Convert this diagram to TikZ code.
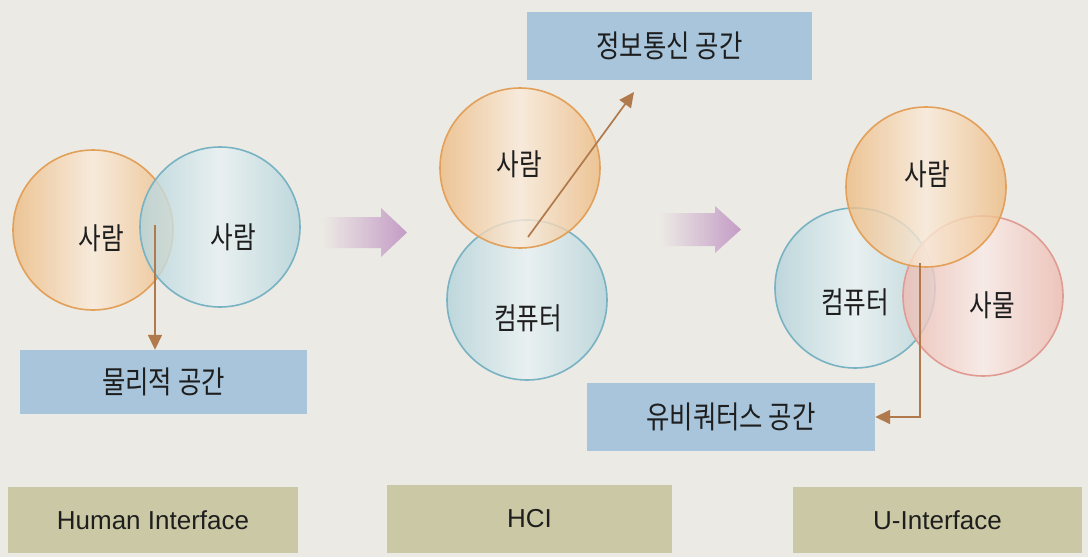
\documentclass[tikz,border=0pt]{standalone}
\usepackage{fontspec}
\setmainfont{Liberation Sans}
\newfontfamily\kr[FakeStretch=0.82]{Noto Sans CJK KR}
\newfontfamily\lat{Liberation Sans}
\usetikzlibrary{arrows.meta,shapes.geometric}
\definecolor{bgc}{HTML}{ECEAE4}
\definecolor{boxblue}{HTML}{A8C5DB}
\definecolor{khaki}{HTML}{CBC9A5}
\definecolor{orS}{HTML}{E2A05A}
\definecolor{orF}{HTML}{EDBB82}
\definecolor{blS}{HTML}{78B2C3}
\definecolor{blF}{HTML}{B3D3DA}
\definecolor{rdS}{HTML}{E09C94}
\definecolor{rdF}{HTML}{EDBBB1}
\definecolor{purp}{HTML}{C49CC6}
\definecolor{brn}{HTML}{B07A4C}
\definecolor{txt}{HTML}{1E1E1E}
\tikzset{
  circ/.style={circle, minimum size=160pt, inner sep=0pt, line width=1.6pt, fill opacity=0.8},
  orc/.style={circ, draw=orS, left color=orF, right color=orF, middle color=orF!30!white},
  blc/.style={circ, draw=blS, left color=blF, right color=blF, middle color=blF!30!white},
  rdc/.style={circ, draw=rdS, left color=rdF, right color=rdF, middle color=rdF!30!white},
  lbl/.style={font=\kr\fontsize{30}{32}\selectfont, text=txt, inner sep=0pt},
  space/.style={fill=boxblue, draw=none, inner sep=0pt, font=\kr\fontsize{31}{33}\selectfont, text=txt},
  kind/.style={fill=khaki, draw=none, inner sep=0pt, font=\lat\fontsize{26}{28}\selectfont, text=txt},
  link/.style={draw=brn, line width=1.7pt, -{Triangle[length=15pt,width=14pt]}},
  bigarrow/.style={left color=bgc, right color=purp, draw=none}
}
\begin{document}
\begin{tikzpicture}[x=1pt,y=-1pt]
\fill[bgc] (0,0) rectangle (1088,557);
\useasboundingbox (0,0) rectangle (1088,557);

% ---- left: Human Interface
\node[orc] (hA) at (93,230) {};
\node[blc] (hB) at (220,227) {};
\node[lbl] (hAt) at (101,238) {사람};
\node[lbl] (hBt) at (233,237) {사람};
\node[space, minimum width=287pt, minimum height=64pt] (phys) at (163.5,382) {물리적 공간};
\coordinate (hS) at (155,225);
\draw[link] (hS) -- (hS |- phys.north);

% ---- big arrows
\shade[bigarrow] (322,217) -- (381,217) -- (381,208) -- (407,232.5) -- (381,257) -- (381,248) -- (322,248) -- cycle;
\shade[bigarrow] (660,213) -- (715,213) -- (715,206) -- (741,229.5) -- (715,253) -- (715,246) -- (660,246) -- cycle;

% ---- middle: HCI
\node[blc] (mC) at (527,300) {};
\node[orc] (mP) at (520,168) {};
\node[lbl] (mPt) at (519,164) {사람};
\node[lbl] (mCt) at (528,318) {컴퓨터};
\node[space, minimum width=285pt, minimum height=68pt] (info) at (669.5,46) {정보통신 공간};
\coordinate (mS) at (528,237);
\coordinate (mE) at (634,92);
\draw[link] (mS) -- (mE);

% ---- right: U-Interface
\node[blc] (uC) at (855,288) {};
\node[rdc] (uT) at (983,296) {};
\node[orc] (uP) at (926,187) {};
\node[lbl] (uPt) at (927,174) {사람};
\node[lbl] (uCt) at (855,302) {컴퓨터};
\node[lbl] (uTt) at (992,305) {사물};
\node[space, minimum width=288pt, minimum height=68pt] (ubi) at (731,417) {유비쿼터스 공간};
\coordinate (uS) at (920,263);
\draw[link] (uS) |- (ubi.east);

% ---- bottom labels
\node[kind, minimum width=290pt, minimum height=66pt] (k1) at (153,520) {Human Interface};
\node[kind, minimum width=285pt, minimum height=68pt] (k2) at (529.5,519) {HCI};
\node[kind, minimum width=289pt, minimum height=66pt] (k3) at (937.5,520) {U-Interface};
\end{tikzpicture}
\end{document}
